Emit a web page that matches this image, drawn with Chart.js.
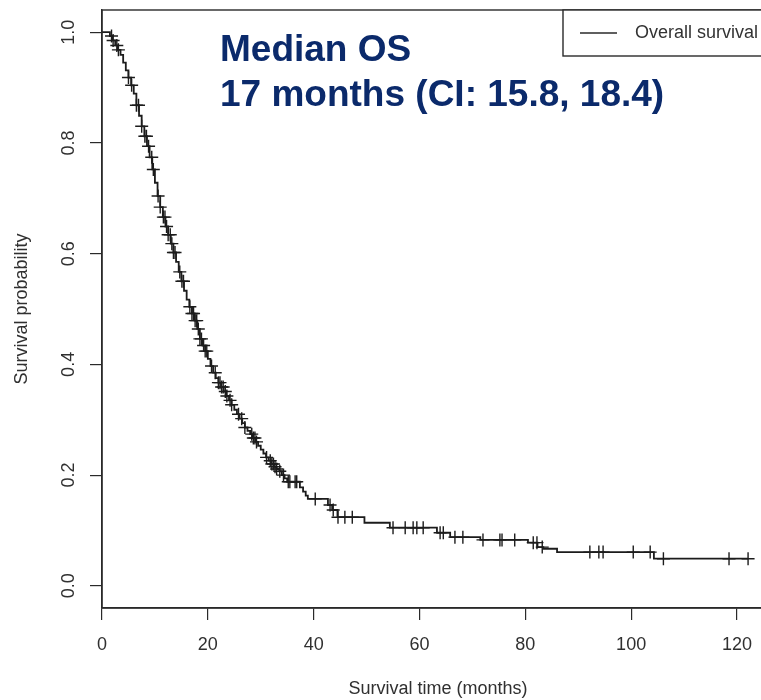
<!DOCTYPE html>
<html>
<head>
<meta charset="utf-8">
<title>Overall survival</title>
<script src="https://cdn.jsdelivr.net/npm/chart.js@4/dist/chart.umd.min.js"></script>
<style>
  html, body { margin: 0; padding: 0; background: #ffffff; overflow: hidden; }
  #wrap { width: 761px; height: 700px; overflow: hidden; }
  canvas { display: block; }
</style>
</head>
<body>
<div id="wrap"><canvas id="km" width="800" height="700"></canvas></div>
<script>
// Kaplan-Meier estimate: event times (months) and survival after each step
const stepTimes = [
  0, 1.5, 2.0, 2.5, 3.0, 3.5, 4.0, 4.5, 5.0, 5.5, 6.0, 6.5, 7.0, 7.5, 8.0, 8.5,
  9.0, 9.5, 10.0, 10.5, 11.0, 11.5, 12.0, 12.5, 13.0, 13.5, 14.0, 14.5, 15.0,
  15.5, 16.0, 16.5, 17.0, 17.5, 18.0, 18.5, 19.0, 19.5, 20.0, 20.5, 21.0, 21.5,
  22.0, 22.5, 23.0, 23.5, 24.0, 24.5, 25.0, 25.5, 26.0, 26.5, 27.0, 27.5, 28.0,
  28.5, 29.0, 29.5, 30.0, 30.5, 31.0, 31.5, 32.0, 32.5, 33.0, 33.5, 34.0, 34.5,
  35.0, 37.4, 38.0, 38.5, 38.9, 42.7, 43.5, 44.5, 49.6, 54.4, 63.3, 65.8, 71.5,
  80.5, 82.3, 83.4, 86.0, 104.3, 122.1
];
const stepSurvival = [
  1.000, 0.993, 0.985, 0.976, 0.968, 0.959, 0.945, 0.931, 0.918, 0.904, 0.889,
  0.868, 0.849, 0.830, 0.812, 0.794, 0.774, 0.752, 0.728, 0.704, 0.684, 0.666,
  0.649, 0.634, 0.618, 0.602, 0.585, 0.567, 0.550, 0.533, 0.517, 0.504, 0.492,
  0.479, 0.464, 0.446, 0.434, 0.424, 0.410, 0.397, 0.385, 0.375, 0.367, 0.359,
  0.351, 0.343, 0.335, 0.327, 0.318, 0.310, 0.302, 0.294, 0.286, 0.280, 0.274,
  0.267, 0.260, 0.253, 0.246, 0.239, 0.232, 0.226, 0.220, 0.215, 0.211, 0.207,
  0.200, 0.194, 0.188, 0.178, 0.170, 0.163, 0.157, 0.146, 0.137, 0.124, 0.114,
  0.105, 0.096, 0.088, 0.083, 0.078, 0.070, 0.067, 0.061, 0.049, 0.049
];
// Censored follow-up times (months)
const censorTimes = [
  1.8, 2.1, 2.8, 3.1, 5.0, 5.6, 6.5, 6.9, 7.5, 8.1, 8.4, 8.8, 9.4, 9.7, 10.6,
  11.0, 11.6, 11.9, 12.2, 12.5, 12.9, 13.2, 13.5, 13.8, 14.7, 15.1, 15.4, 16.6,
  17.0, 17.3, 17.6, 17.9, 18.2, 18.5, 18.8, 19.2, 19.5, 19.8, 20.7, 21.4, 22.0,
  22.3, 22.6, 22.9, 23.3, 23.6, 24.2, 24.5, 25.8, 26.4, 27.0, 28.3, 28.6, 28.9,
  29.2, 31.1, 31.8, 32.1, 32.4, 32.7, 33.0, 33.6, 34.3, 35.2, 35.5, 36.5, 36.8,
  40.3, 43.1, 43.7, 44.6, 45.9, 47.3, 55.0, 57.3, 58.8, 59.5, 60.7, 63.9, 64.5,
  66.7, 68.2, 72.0, 75.2, 75.6, 78.0, 81.5, 82.2, 83.2, 92.2, 93.9, 94.7, 100.4,
  103.6, 106.1, 118.5, 122.1
];
const xTickValues = [0, 20, 40, 60, 80, 100, 120];
const xTickLabels = ['0', '20', '40', '60', '80', '100', '120'];
const yTickValues = [0, 0.2, 0.4, 0.6, 0.8, 1.0];
const yTickLabels = ['0.0', '0.2', '0.4', '0.6', '0.8', '1.0'];
const seriesLabel = 'Overall survival';
const xTitle = 'Survival time (months)';
const yTitle = 'Survival probability';
const noteLines = ['Median OS', '17 months (CI: 15.8, 18.4)'];

// survival value of the step function at time t
function survivalAt(t) {
  let s = stepSurvival[0];
  for (let i = 0; i < stepTimes.length; i++) {
    if (stepTimes[i] <= t) s = stepSurvival[i]; else break;
  }
  return s;
}

const FONT = '"Liberation Sans", Arial, Helvetica, sans-serif';
const INK = '#2a2a2a';

const curvePoints = stepTimes.map((t, i) => ({ x: t, y: stepSurvival[i] }));
const censorPoints = censorTimes.map(t => ({ x: t, y: survivalAt(t) }));

// plot frame, boxed legend and the median annotation
const decorations = {
  id: 'decorations',
  afterDraw(chart) {
    const { ctx, chartArea: a } = chart;
    ctx.save();
    ctx.strokeStyle = INK;
    ctx.lineWidth = 1.4;
    ctx.strokeRect(a.left, a.top, a.right - a.left, a.bottom - a.top);

    const lx = a.right - 211, ly = a.top, lh = 46;
    ctx.fillStyle = '#ffffff';
    ctx.fillRect(lx, ly, a.right - lx, lh);
    ctx.strokeRect(lx, ly, a.right - lx, lh);
    ctx.beginPath();
    ctx.moveTo(lx + 17, ly + 23);
    ctx.lineTo(lx + 54, ly + 23);
    ctx.lineWidth = 1.4;
    ctx.stroke();
    ctx.font = '18px ' + FONT;
    ctx.fillStyle = '#333333';
    ctx.textBaseline = 'middle';
    ctx.textAlign = 'left';
    ctx.fillText(chart.data.datasets[0].label, lx + 72, ly + 23);

    ctx.font = 'bold 37px ' + FONT;
    ctx.fillStyle = '#0b2a6b';
    ctx.textBaseline = 'alphabetic';
    ctx.fillText(noteLines[0], 220, 61);
    ctx.fillText(noteLines[1], 220, 106);
    ctx.restore();
  }
};

new Chart(document.getElementById('km'), {
  type: 'line',
  data: {
    datasets: [
      {
        label: seriesLabel,
        data: curvePoints,
        stepped: 'before',
        borderColor: '#1c1c1c',
        borderWidth: 1.8,
        pointRadius: 0,
        fill: false,
        order: 2
      },
      {
        type: 'scatter',
        label: 'Censored',
        data: censorPoints,
        pointStyle: 'cross',
        pointRadius: 6.5,
        pointBorderWidth: 1.4,
        borderColor: '#1c1c1c',
        backgroundColor: '#1c1c1c',
        showLine: false,
        order: 1
      }
    ]
  },
  options: {
    responsive: false,
    animation: false,
    devicePixelRatio: 1,
    layout: { padding: { top: 10, right: 26, left: 0, bottom: 0 } },
    plugins: { legend: { display: false }, tooltip: { enabled: false } },
    scales: {
      x: {
        type: 'linear',
        min: 0,
        max: 127,
        afterBuildTicks: s => { s.ticks = xTickValues.map(v => ({ value: v })); },
        afterFit: s => { s.height = 92; s.paddingLeft = 0; s.paddingRight = 0; },
        grid: { drawOnChartArea: false, drawTicks: true, tickLength: 12, color: INK, lineWidth: 1.2 },
        border: { display: true, color: INK, width: 1.4 },
        ticks: {
          padding: 14,
          color: '#303030',
          font: { family: FONT, size: 18 },
          maxRotation: 0,
          callback: v => { const i = xTickValues.indexOf(v); return i < 0 ? '' : xTickLabels[i]; }
        },
        title: {
          display: true, text: xTitle, color: '#303030',
          font: { family: FONT, size: 18 }, padding: { top: 0, bottom: 0 }
        }
      },
      y: {
        type: 'linear',
        min: -0.04,
        max: 1.04,
        afterBuildTicks: s => { s.ticks = yTickValues.map(v => ({ value: v })); },
        afterFit: s => { s.width = 102; s.paddingTop = 0; s.paddingBottom = 0; },
        grid: { drawOnChartArea: false, drawTicks: true, tickLength: 12, color: INK, lineWidth: 1.2 },
        border: { display: true, color: INK, width: 1.4 },
        ticks: {
          padding: 8.5,
          crossAlign: 'center',
          minRotation: 90,
          maxRotation: 90,
          color: '#303030',
          font: { family: FONT, size: 18 },
          callback: v => {
            const i = yTickValues.findIndex(t => Math.abs(t - v) < 1e-9);
            return i < 0 ? '' : yTickLabels[i];
          }
        },
        title: {
          display: true, text: yTitle, color: '#303030',
          font: { family: FONT, size: 18 }, padding: { top: 11, bottom: 0 }
        }
      }
    }
  },
  plugins: [decorations]
});
</script>
</body>
</html>
